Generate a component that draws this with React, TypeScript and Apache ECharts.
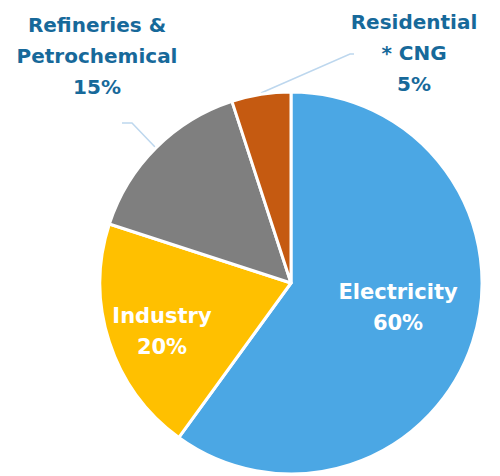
import React, { useEffect, useRef } from "react";
import * as echarts from "echarts";

const categories = ["Electricity", "Industry", "Refineries &\nPetrochemical", "Residential\n* CNG"];
const shares = [60, 20, 15, 5];
const sliceColors = ["#4BA7E4", "#FFC000", "#7F7F7F", "#C55A11"];
const labelColors = ["#FFFFFF", "#FFFFFF", "#17699A", "#17699A"];

const labelSpots: Record<number, { x: number; y: number; line?: number[][] }> = {
  0: { x: 398, y: 307 },
  1: { x: 162, y: 331 },
  2: { x: 97, y: 56, line: [[155, 147], [132, 123], [122, 123]] },
  3: { x: 414, y: 53, line: [[261, 93], [350, 54], [354, 54]] },
};

export default function App() {
  const ref = useRef<HTMLDivElement>(null);
  useEffect(() => {
    document.body.style.margin = "0";
    const chart = echarts.init(ref.current!, null, { renderer: "svg" });
    chart.setOption({
      animation: false,
      backgroundColor: "#FFFFFF",
      series: [
        {
          type: "pie",
          center: [291, 283],
          radius: [0, 191],
          startAngle: 90,
          clockwise: true,
          itemStyle: { borderColor: "#FFFFFF", borderWidth: 3 },
          label: {
            show: true,
            formatter: "{b}\n{d}%",
            fontFamily: "DejaVu Sans",
            fontWeight: "bold",
            fontSize: 20,
            lineHeight: 31,
            align: "center",
            overflow: "none",
          },
          labelLine: {
            show: true,
            lineStyle: { color: "#BDD7EE", width: 1.5 },
          },
          labelLayout: (p: any) => {
            const s = labelSpots[p.dataIndex];
            const out: any = { x: s.x, y: s.y, align: "center", verticalAlign: "middle" };
            if (s.line) out.labelLinePoints = s.line;
            return out;
          },
          data: categories.map((name, i) => ({
            name,
            value: shares[i],
            itemStyle: { color: sliceColors[i] },
            label: {
              color: labelColors[i],
              position: i < 2 ? "inside" : "outside",
              fontSize: i < 2 ? 21 : 20,
            },
            labelLine: { show: i >= 2 },
          })),
        },
      ],
    });
    return () => chart.dispose();
  }, []);
  return <div ref={ref} style={{ width: 500, height: 476 }} />;
}
